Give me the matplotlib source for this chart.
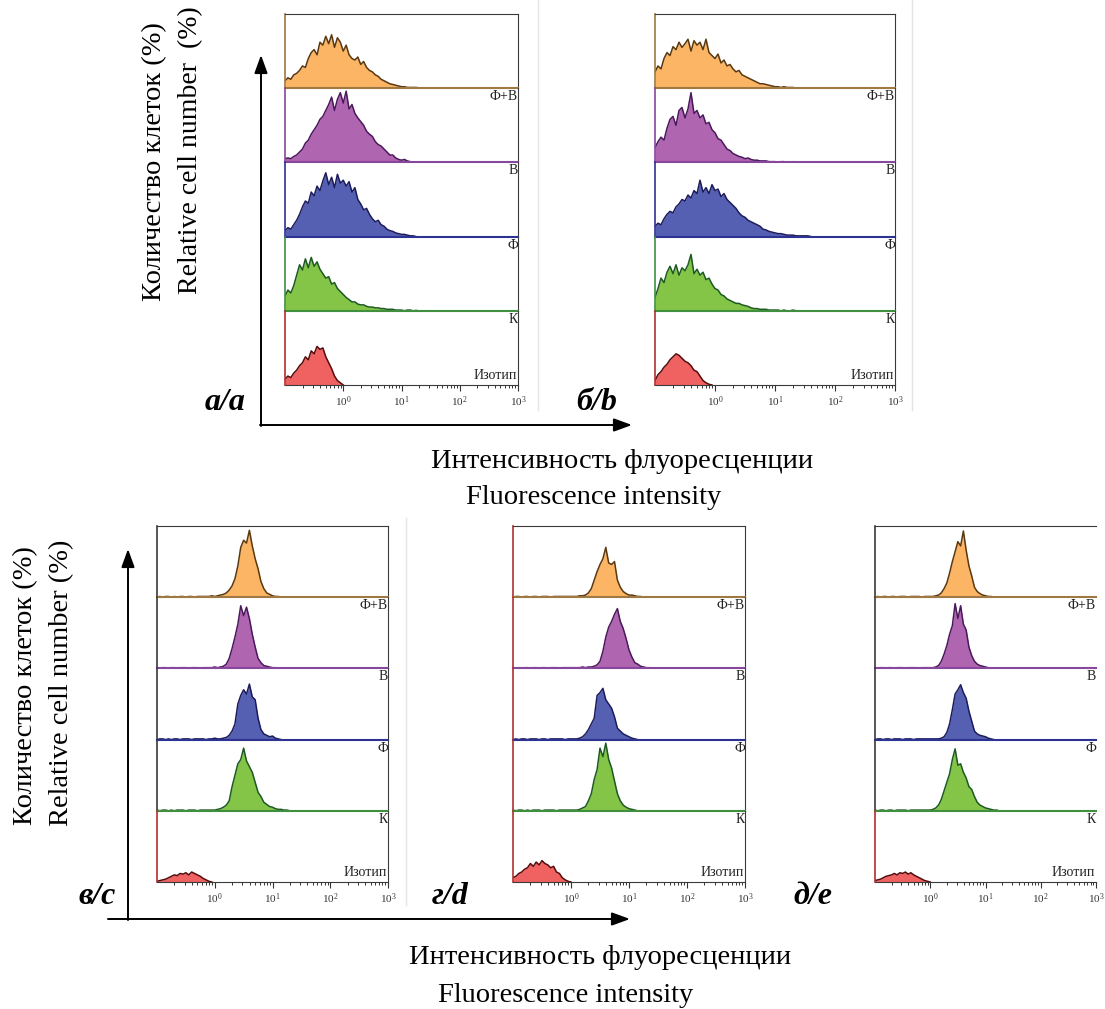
import numpy as np
import matplotlib.pyplot as plt
from matplotlib.ticker import FixedLocator, LogLocator, NullFormatter, NullLocator

plt.rcParams['font.family'] = ['Liberation Serif', 'DejaVu Serif']
plt.rcParams['mathtext.fontset'] = 'stix'

W, H = 1105, 1009
BIN = 0.05  # log10 width of one histogram channel, first channel starts at 10^-1

# relative cell number per channel (% of strip height)
# order of strips top to bottom: Ф+В, В, Ф, К, Изотип
a_fv = [10, 14, 12, 18, 20, 24, 30, 28, 40, 48, 52, 45, 62, 58, 70, 60, 72, 55, 68, 62,
        50, 58, 45, 40, 38, 42, 32, 36, 28, 24, 22, 18, 16, 12, 10, 8, 6, 5, 4, 3,
        2, 2, 1, 1, 1, 1, 0.5, 0.5]
a_v = [5, 6, 5, 8, 10, 14, 18, 26, 30, 38, 44, 50, 58, 62, 70, 78, 88, 70, 85, 94,
       80, 96, 72, 78, 66, 60, 55, 50, 42, 38, 35, 28, 24, 22, 18, 14, 10, 10, 6, 4,
       3, 4, 2, 1]
a_f = [8, 12, 10, 16, 22, 30, 40, 48, 45, 60, 55, 68, 62, 75, 86, 70, 80, 66, 84, 72,
       76, 68, 74, 60, 66, 50, 44, 36, 38, 30, 24, 20, 22, 16, 14, 10, 8, 7, 5, 4,
       3, 3, 2, 1, 1]
a_k = [20, 28, 24, 34, 48, 62, 55, 70, 58, 72, 60, 66, 56, 50, 44, 46, 36, 38, 30, 26,
       22, 18, 15, 12, 12, 9, 8, 8, 6, 5, 5, 4, 4, 3, 3, 2, 2, 2, 1, 1,
       1, 0, 1, 1, 0, 0.5]
a_iso = [8, 12, 10, 16, 20, 26, 30, 38, 34, 46, 42, 52, 48, 50, 38, 30, 22, 12, 6, 3]

b_fv = [22, 30, 26, 40, 48, 44, 56, 52, 62, 55, 60, 66, 50, 64, 58, 62, 52, 66, 48, 44,
        40, 46, 34, 38, 30, 32, 26, 22, 24, 18, 16, 14, 12, 10, 8, 6, 6, 5, 4, 3,
        2, 2, 1, 2, 1, 1, 1]
b_v = [20, 28, 34, 30, 46, 58, 62, 50, 70, 74, 60, 72, 94, 66, 70, 60, 64, 52, 54, 44,
       40, 32, 30, 24, 18, 16, 12, 10, 8, 7, 5, 6, 4, 3, 3, 2, 2, 2, 1, 1,
       1, 0, 1, 1, 0, 0, 1]
b_f = [14, 18, 16, 24, 30, 34, 32, 40, 44, 50, 48, 56, 52, 62, 58, 76, 60, 66, 58, 70,
       62, 64, 54, 58, 50, 46, 42, 38, 32, 28, 26, 22, 20, 18, 16, 14, 10, 9, 7, 6,
       5, 4, 4, 3, 2, 2, 2, 1, 1, 1, 1, 1]
b_k = [18, 30, 44, 38, 52, 60, 50, 62, 48, 58, 54, 62, 76, 50, 56, 48, 52, 42, 44, 36,
       30, 28, 22, 20, 16, 14, 12, 10, 10, 8, 7, 6, 4, 3, 3, 2, 2, 2, 1, 1,
       1, 1, 0, 1, 0, 0, 1]
b_iso = [6, 14, 18, 24, 28, 34, 38, 42, 40, 36, 32, 30, 26, 20, 18, 12, 6, 3, 1]

c_fv = [0, 1, 0, 1, 1, 0, 1, 0, 1, 1, 0, 1, 1, 0, 1, 1, 1, 1, 1, 2, 1, 2, 3,
        4, 6, 10, 16, 26, 44, 70, 80, 76, 94, 72, 54, 40, 22, 12, 6, 4, 2, 1, 1]
c_v = [1, 0, 1, 1, 0, 1, 1, 0, 1, 1, 1, 0, 1, 1, 1, 0, 1, 1, 1, 1, 2, 1, 2,
       3, 6, 14, 28, 44, 62, 88, 74, 86, 70, 48, 30, 14, 8, 4, 3, 2, 1, 1]
c_f = [0, 1, 1, 0, 1, 0, 1, 1, 0, 1, 1, 1, 0, 1, 1, 1, 1, 0, 1, 1, 2, 1, 1,
       2, 3, 6, 12, 22, 50, 62, 70, 64, 78, 60, 56, 30, 14, 8, 6, 4, 5, 2, 1]
c_k = [1, 0, 1, 1, 0, 1, 0, 1, 1, 1, 0, 1, 1, 1, 0, 1, 1, 1, 1, 1, 1,
       2, 3, 5, 8, 14, 34, 50, 66, 72, 88, 70, 62, 54, 40, 26, 20, 12, 9, 6, 5,
       3, 2, 2, 1, 1]
c_iso = [1, 2, 3, 4, 6, 8, 10, 9, 12, 11, 13, 10, 14, 12, 10, 8, 5, 3, 1]

d_fv = [0, 1, 1, 0, 1, 1, 0, 1, 1, 0, 1, 1, 1, 0, 1, 1, 1, 1, 1, 1, 1, 1, 1, 2, 2,
        3, 6, 12, 24, 36, 46, 54, 70, 48, 46, 50, 24, 14, 8, 5, 3, 3, 2, 1, 1]
d_v = [1, 0, 1, 0, 1, 1, 0, 1, 1, 0, 1, 1, 0, 1, 1, 1, 0, 1, 1, 1, 1, 1, 1, 1, 2, 1, 2, 2,
       3, 5, 10, 24, 44, 58, 66, 76, 84, 66, 56, 42, 26, 16, 8, 6, 3, 2, 1, 1]
d_f = [0, 1, 0, 1, 1, 0, 1, 1, 1, 0, 1, 1, 0, 1, 1, 1, 1, 1, 0, 1, 1, 1, 1,
       2, 4, 8, 14, 22, 30, 62, 66, 72, 56, 50, 44, 32, 16, 12, 8, 6, 4, 2, 1]
d_k = [1, 0, 1, 1, 0, 1, 0, 1, 1, 1, 0, 1, 1, 1, 1, 0, 1, 1, 1, 1, 1, 1, 1,
       2, 4, 6, 14, 24, 44, 58, 88, 76, 95, 72, 60, 42, 24, 14, 8, 5, 3, 2, 1]
d_iso = [6, 8, 12, 14, 18, 20, 26, 22, 28, 24, 30, 26, 24, 20, 22, 14, 12, 6, 3, 1]

e_fv = [0, 1, 0, 1, 1, 0, 1, 1, 0, 1, 1, 1, 0, 1, 1, 1, 1, 0, 1, 1, 1, 1, 2,
        3, 6, 12, 20, 34, 50, 64, 78, 72, 93, 66, 44, 30, 14, 8, 5, 3, 2, 1, 1]
e_v = [1, 0, 1, 1, 0, 1, 1, 0, 1, 1, 1, 0, 1, 1, 1, 1, 0, 1, 1, 1, 1, 1,
       2, 4, 10, 20, 32, 48, 60, 91, 70, 88, 62, 54, 30, 18, 10, 6, 4, 3, 2, 1]
e_f = [0, 1, 1, 0, 1, 1, 0, 1, 1, 1, 0, 1, 1, 1, 0, 1, 1, 1, 1, 1, 1, 1, 1,
       1, 2, 4, 10, 22, 42, 64, 70, 77, 66, 58, 40, 26, 12, 8, 6, 5, 4, 2, 1]
e_k = [1, 0, 1, 1, 0, 1, 1, 0, 1, 1, 1, 1, 0, 1, 1, 1, 1, 1, 1, 1, 1,
       2, 4, 8, 16, 28, 40, 52, 72, 87, 64, 66, 54, 46, 34, 30, 20, 12, 8, 6, 4,
       3, 2, 1, 1]
e_iso = [2, 3, 4, 6, 8, 9, 10, 12, 10, 13, 12, 14, 11, 13, 10, 8, 6, 4, 2, 1]

strip_labels = ['Ф+В', 'В', 'Ф', 'К', 'Изотип']
fill_col = ['#FBB565', '#B065B0', '#5560B3', '#84C548', '#F06262']
edge_col = ['#5A3810', '#4A185C', '#1C1C5C', '#1C5A22', '#560C0C']
base_col = ['#A07842', '#86479C', '#2E3290', '#3F8F3F', '#B03030']
frame = '#3a3a3a'


def rect(x0, y0, x1, y1):
    return [x0 / W, 1 - y1 / H, (x1 - x0) / W, (y1 - y0) / H]


def draw_panel(fig, box, hists, left_cols, right_spine=True):
    x0, y0, x1, y1 = box
    h = (y1 - y0) / 5
    for i, vals in enumerate(hists):
        ax = fig.add_axes(rect(x0, y0 + i * h, x1, y0 + (i + 1) * h))
        ax.set_xscale('log')
        ax.set_xlim(0.1, 1000)
        ax.set_ylim(0, 100)
        n = len(vals)
        xs = 10 ** (-1 + BIN * np.arange(n + 1))
        ys = np.append(vals, 0)
        ax.fill_between(xs, ys, 0, color=fill_col[i], lw=0)
        ax.plot(xs, ys, color=edge_col[i], lw=1.1)
        ax.patch.set_alpha(0)
        ax.yaxis.set_major_locator(NullLocator())
        ax.spines['top'].set_visible(i == 0)
        ax.spines['top'].set_color(frame)
        ax.spines['right'].set_color(frame)
        ax.spines['right'].set_visible(right_spine)
        ax.spines['left'].set_color(left_cols[i])
        ax.spines['left'].set_linewidth(1.2)
        if i < 4:
            ax.spines['bottom'].set_color(base_col[i])
            ax.spines['bottom'].set_linewidth(1.5)
            ax.xaxis.set_major_locator(NullLocator())
            ax.xaxis.set_minor_locator(NullLocator())
            ax.annotate(strip_labels[i], (1, 0), xycoords='axes fraction',
                        xytext=(0, -1.5), textcoords='offset points',
                        ha='right', va='top', fontsize=10, color='#222222')
        else:
            ax.spines['bottom'].set_color(frame)
            ax.xaxis.set_major_locator(FixedLocator([1, 10, 100, 1000]))
            ax.xaxis.set_minor_locator(LogLocator(base=10, subs=np.arange(2, 10)))
            ax.xaxis.set_minor_formatter(NullFormatter())
            ax.tick_params(axis='x', which='major', length=4, width=0.8,
                           labelsize=8, pad=3, colors='#333333')
            ax.tick_params(axis='x', which='minor', length=2.5, width=0.7,
                           color='#333333')
            ax.annotate(strip_labels[i], (1, 0), xycoords='axes fraction',
                        xytext=(-0.5, 2), textcoords='offset points',
                        ha='right', va='bottom', fontsize=10, color='#222222')


fig = plt.figure(figsize=(W / 100, H / 100), dpi=100)

bg = fig.add_axes([0, 0, 1, 1])
bg.set_xlim(0, W)
bg.set_ylim(H, 0)
bg.axis('off')

red = base_col[4]
gray = frame
draw_panel(fig, (285, 14, 518, 385), [a_fv, a_v, a_f, a_k, a_iso], base_col)
draw_panel(fig, (655, 14, 895, 385), [b_fv, b_v, b_f, b_k, b_iso], base_col)
draw_panel(fig, (157, 526, 388, 882), [c_fv, c_v, c_f, c_k, c_iso], [gray] * 4 + [red])
draw_panel(fig, (513, 526, 745, 882), [d_fv, d_v, d_f, d_k, d_iso], [red] * 5)
draw_panel(fig, (875, 526, 1096, 882), [e_fv, e_v, e_f, e_k, e_iso], [gray] * 4 + [red],
           right_spine=False)

# faint borders of the pasted images
for x, ya, yb in [(538, 0, 410), (912, 0, 410), (406, 518, 905)]:
    bg.plot([x, x], [ya, yb], color='#e4e4e4', lw=1)

arrow = dict(arrowstyle='-|>,head_length=1.1,head_width=0.4', color='black',
             lw=1.4, shrinkA=0, shrinkB=0)
bg.annotate('', xy=(261, 55), xytext=(261, 426), arrowprops=arrow)
bg.annotate('', xy=(632, 425), xytext=(260, 425), arrowprops=arrow)
bg.annotate('', xy=(128, 549), xytext=(128, 920), arrowprops=arrow)
bg.annotate('', xy=(630, 919), xytext=(108, 919), arrowprops=arrow)

fs = 20.5
bg.text(155, 162, 'Количество клеток (%)', rotation=90, ha='center', va='center', fontsize=fs)
bg.text(191, 150, 'Relative cell number  (%)', rotation=90, ha='center', va='center', fontsize=20)
bg.text(26, 686, 'Количество клеток (%)', rotation=90, ha='center', va='center', fontsize=fs)
bg.text(62, 683, 'Relative cell number (%)', rotation=90, ha='center', va='center', fontsize=fs)

bg.text(622, 462, 'Интенсивность флуоресценции', ha='center', va='center', fontsize=fs)
bg.text(594, 497, 'Fluorescence intensity', ha='center', va='center', fontsize=fs)
bg.text(600, 957, 'Интенсивность флуоресценции', ha='center', va='center', fontsize=fs)
bg.text(566, 995, 'Fluorescence intensity', ha='center', va='center', fontsize=fs)

for s, x, y in [('а/a', 225, 403), ('б/b', 597, 403), ('в/c', 97, 897),
                ('г/d', 450, 897), ('д/e', 813, 897)]:
    bg.text(x, y, s, ha='center', va='center', fontsize=23,
            fontweight='bold', fontstyle='italic')

fig.savefig('out.png', dpi=100)
